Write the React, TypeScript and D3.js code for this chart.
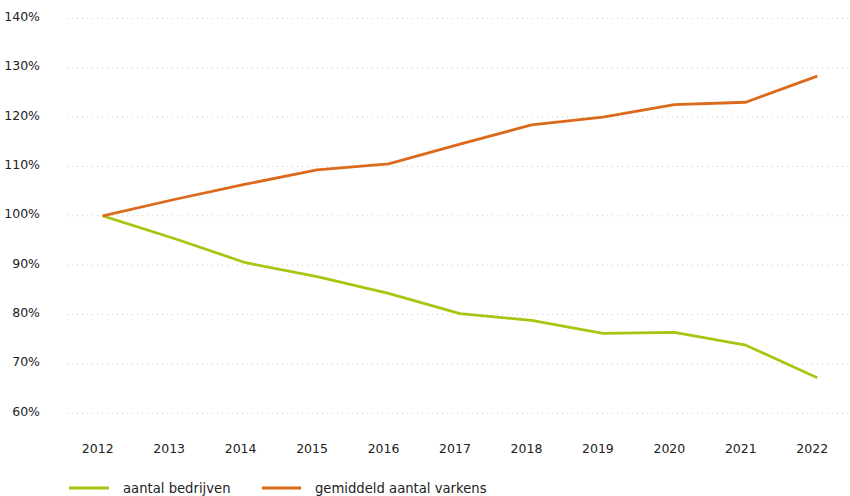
import React from "react";
import * as d3 from "d3";

const years = ["2012","2013","2014","2015","2016","2017","2018","2019","2020","2021","2022"];
const bedrijven = [100, 95.4, 90.5, 87.7, 84.3, 80.2, 78.8, 76.2, 76.4, 73.8, 67.2];
const varkens = [100, 103.3, 106.4, 109.3, 110.5, 114.5, 118.4, 120.0, 122.5, 123.0, 128.3];
const yTicks = [60, 70, 80, 90, 100, 110, 120, 130, 140];
const seriesNames = ["aantal bedrijven", "gemiddeld aantal varkens"];
const seriesColors = ["#a8c512", "#dc6a1c"];

const W = 850, H = 496;
const FONT = "'DejaVu Sans', sans-serif";

export default function App() {
  const x = d3.scalePoint<string>().domain(years).range([67, 853]).padding(0.5);
  const y = d3.scaleLinear().domain([60, 140]).range([413.3, 18.3]);
  const line = d3.line<number>().x((_, i) => x(years[i])!).y(d => y(d));
  const data = [bedrijven, varkens];
  return (
    <svg width={W} height={H} style={{ position: "absolute", left: 0, top: 0, background: "#fff" }} fontFamily={FONT}>
      {yTicks.map(t => (
        <g key={t}>
          <line x1={67} x2={850} y1={y(t)} y2={y(t)} stroke="#c8c8c8" strokeWidth={1} strokeDasharray="1 4" />
          <text x={40} y={y(t) + 2.5} textAnchor="end" fontSize={12.5} fill="#222">{t}%</text>
        </g>
      ))}
      {years.map(yr => (
        <text key={yr} x={x(yr)! - 5} y={453} textAnchor="middle" fontSize={12.5} fill="#222">{yr}</text>
      ))}
      {data.map((d, i) => (
        <path key={i} d={line(d)!} fill="none" stroke={seriesColors[i]} strokeWidth={2.8} strokeLinejoin="round" />
      ))}
      <g>
        <line x1={69} x2={109} y1={488} y2={488} stroke={seriesColors[0]} strokeWidth={2.8} />
        <text x={123} y={492.5} fontSize={13.2} fill="#222">{seriesNames[0]}</text>
        <line x1={262} x2={301} y1={488} y2={488} stroke={seriesColors[1]} strokeWidth={2.8} />
        <text x={315} y={492.5} fontSize={13.2} fill="#222">{seriesNames[1]}</text>
      </g>
    </svg>
  );
}
